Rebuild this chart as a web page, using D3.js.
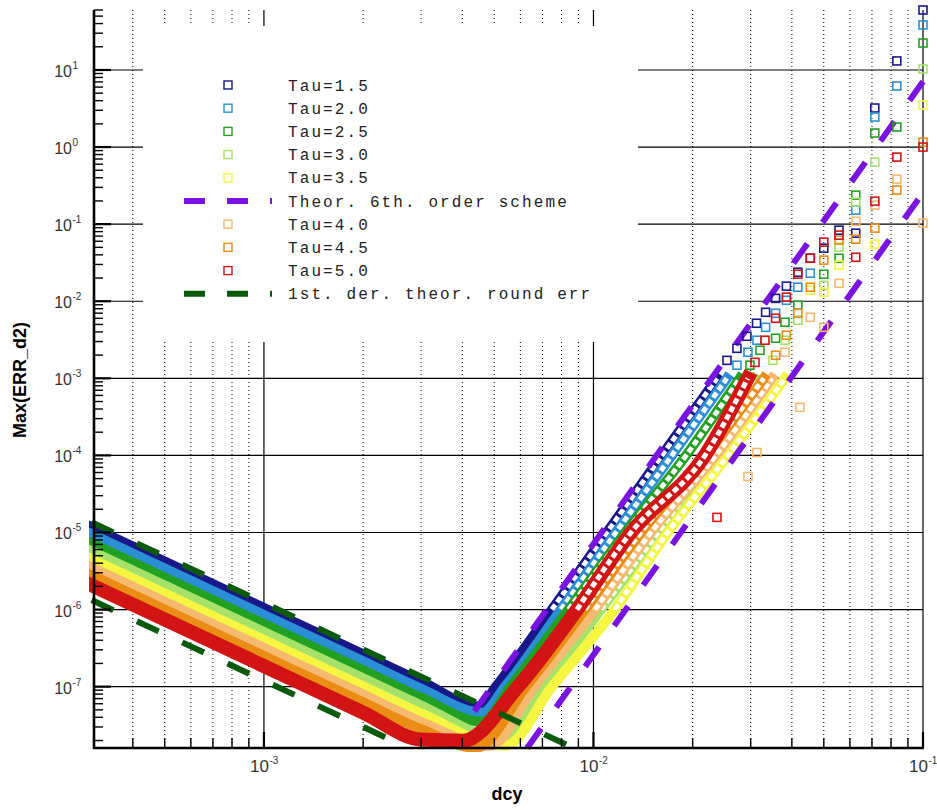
<!DOCTYPE html>
<html>
<head>
<meta charset="utf-8">
<script src="https://cdn.jsdelivr.net/npm/d3@7"></script>
<style>
  html, body { margin: 0; padding: 0; background: #fff; }
  svg { display: block; }
</style>
</head>
<body>
<div id="chart"></div>
<script>
// axis ticks
const dcyDecades = [1e-3, 1e-2, 1e-1];
const dcyExp = ['-3', '-2', '-1'];
const errDecades = [1e-7, 1e-6, 1e-5, 1e-4, 1e-3, 1e-2, 1e-1, 1e0, 1e1];
const errExp = ['-7', '-6', '-5', '-4', '-3', '-2', '-1', '0', '1'];

// series labels / colours
const tauLabels = ['Tau=1.5', 'Tau=2.0', 'Tau=2.5', 'Tau=3.0', 'Tau=3.5', 'Tau=4.0', 'Tau=4.5', 'Tau=5.0'];
const tauColors = ['#18188a', '#2b8fd6', '#21a021', '#a6e26a', '#f5f542', '#f5b970', '#eb8c14', '#d21414'];

// dense part of each series (dcy, max err) -- the squares overlap into a band
const band15 = [[3e-4, 1.17e-5], [1e-3, 1.05e-6], [2e-3, 2.63e-7], [3e-3, 1.17e-7], [4.52e-3, 5.5e-8], [5.06e-3, 1e-7], [7.48e-3, 1e-6], [1.099e-2, 1e-5], [1.614e-2, 1e-4], [2.37e-2, 1e-3]];
const band20 = [[3e-4, 9.45e-6], [1e-3, 8.5e-7], [2e-3, 2.13e-7], [3e-3, 9.4e-8], [4.6e-3, 4.6e-8], [5.39e-3, 1e-7], [7.97e-3, 1e-6], [1.17e-2, 1e-5], [1.73e-2, 1e-4], [2.54e-2, 1e-3]];
const band25 = [[3e-4, 7.22e-6], [1e-3, 6.5e-7], [2e-3, 1.63e-7], [3e-3, 7.2e-8], [4.6e-3, 3.5e-8], [5.6e-3, 1e-7], [8.4e-3, 1e-6], [1.25e-2, 1e-5], [1.91e-2, 1e-4], [2.78e-2, 1e-3]];
const band30 = [[3e-4, 5.69e-6], [1e-3, 5.12e-7], [2e-3, 1.28e-7], [3e-3, 5.7e-8], [5.2e-3, 2.18e-8], [6.98e-3, 1e-7], [1.054e-2, 1e-6], [1.57e-2, 1e-5], [2.29e-2, 1e-4], [3.09e-2, 1e-3]];
const band35 = [[3e-4, 4.48e-6], [1e-3, 4.03e-7], [2e-3, 1.01e-7], [3e-3, 4.5e-8], [5.39e-3, 1.71e-8], [7.48e-3, 1e-7], [1.161e-2, 1e-6], [1.68e-2, 1e-5], [2.56e-2, 1e-4], [3.81e-2, 1e-3]];
const band40 = [[3e-4, 3.52e-6], [1e-3, 3.17e-7], [2e-3, 7.9e-8], [3e-3, 3.5e-8], [4.85e-3, 1.71e-8], [6.6e-3, 1e-7], [1.011e-2, 1e-6], [1.494e-2, 1e-5], [2.35e-2, 1e-4], [3.48e-2, 1e-3]];
const band45 = [[3e-4, 2.78e-6], [1e-3, 2.5e-7], [2e-3, 6.25e-8], [3e-3, 2.8e-8], [4.4e-3, 1.61e-8], [6.24e-3, 1e-7], [9.42e-3, 1e-6], [1.393e-2, 1e-5], [2.19e-2, 1e-4], [3.29e-2, 1e-3]];
const band50 = [[3e-4, 2.06e-6], [1e-3, 1.85e-7], [2e-3, 4.6e-8], [3e-3, 2.06e-8], [4.02e-3, 1.99e-8], [5.9e-3, 1e-7], [8.91e-3, 1e-6], [1.3e-2, 1e-5], [2.18e-2, 1e-4], [2.94e-2, 1e-3]];

// sparse part (coarse grids, single squares)
const pts15 = [[0.02542, 1.71e-3], [0.02725, 2.45e-3], [0.02921, 3.51e-3], [0.03125, 5.18e-3], [0.0333, 7.19e-3], [0.0357, 1.09e-2], [0.0385, 1.57e-2], [0.0417, 2.38e-2], [0.0455, 3.62e-2], [0.05, 4.88e-2], [0.0556, 8.35e-2], [0.0625, 7.64e-2], [0.0714, 3.21], [0.0833, 13.1], [0.1, 60]];
const pts20 = [[0.02725, 1.48e-3], [0.02943, 2.18e-3], [0.03135, 3.12e-3], [0.0333, 4.59e-3], [0.0357, 6.98e-3], [0.0385, 1.03e-2], [0.0417, 1.52e-2], [0.0455, 2.31e-2], [0.0625, 0.152], [0.0714, 2.45], [0.0833, 6.2], [0.1, 38.4]];
const pts25 = [[0.02985, 1.48e-3], [0.03201, 2.31e-3], [0.0357, 3.31e-3], [0.03813, 5.34e-3], [0.0417, 8.87e-3], [0.05, 2.24e-2], [0.0556, 3.61e-2], [0.0625, 0.238], [0.0714, 1.52], [0.0833, 1.82], [0.1, 22.4]];
const pts30 = [[0.03506, 1.71e-3], [0.03813, 3.12e-3], [0.0417, 5.67e-3], [0.05, 1.61e-2], [0.0556, 5.02e-2], [0.0625, 0.193], [0.0714, 0.638], [0.1, 10.3]];
const pts35 = [[0.0455, 1.39e-2], [0.05, 1.31e-2], [0.0556, 2.94e-2], [0.0714, 5.5e-2], [0.1, 3.51]];
const pts40 = [[0.02943, 5.33e-5], [0.03135, 1.09e-4], [0.03813, 2.18e-3], [0.04233, 4.2e-4], [0.0455, 6.19e-3], [0.05, 4.59e-3], [0.0556, 1.71e-2], [0.0625, 0.109], [0.0714, 0.177], [0.0833, 0.384], [0.1, 0.103]];
const pts45 = [[0.0357, 1.99e-3], [0.0385, 3.62e-3], [0.0417, 6.98e-3], [0.0455, 1.52e-2], [0.05, 3.41e-2], [0.0556, 6.2e-2], [0.0625, 6.38e-2], [0.0714, 8.87e-2], [0.0833, 0.277], [0.1, 1.16]];
const pts50 = [[0.0237, 1.57e-5], [0.03092, 1.61e-3], [0.03315, 3.12e-3], [0.0357, 6.01e-3], [0.0385, 1.13e-2], [0.0417, 2.24e-2], [0.0455, 3.61e-2], [0.05, 5.84e-2], [0.0556, 7.2e-2], [0.0625, 3.72e-2], [0.0714, 0.199], [0.0833, 0.741], [0.1, 1.0]];

// theory lines (straight in log-log, end points)
const sixthHi = [[4.35e-3, 4.8e-8], [0.1, 7.08]];
const sixthLo = [[6.29e-3, 1.6e-8], [0.1, 0.257]];
const roundHi = [[3e-4, 1.36e-5], [8.7e-3, 1.6e-8]];
const roundLo = [[3e-4, 1.33e-6], [2.74e-3, 1.6e-8]];

const makePlot = () => {
  const width = 937;
  const height = 810;
  const plot = { left: 94, right: 923, top: 10, bottom: 748 };
  const purple = '#7a12e2';
  const dkgreen = '#0b5a0b';

  const svg = d3.select('#chart').append('svg').attr('width', width).attr('height', height);

  const x = d3.scaleLog().domain([3.05e-4, 0.1]).range([plot.left, plot.right]);
  const y = d3.scaleLog().domain([1.6e-8, 60]).range([plot.bottom, plot.top]);

  const minorX = [];
  [1e-4, 1e-3, 1e-2].forEach((dec) => d3.range(2, 10).forEach((m) => {
    const v = m * dec;
    if (v > x.domain()[0] && v < x.domain()[1]) minorX.push(v);
  }));
  const minorY = [];
  [1e-8, 1e-7, 1e-6, 1e-5, 1e-4, 1e-3, 1e-2, 1e-1, 1e0, 1e1].forEach((dec) => d3.range(2, 10).forEach((m) => {
    const v = m * dec;
    if (v > y.domain()[0] && v <= y.domain()[1]) minorY.push(v);
  }));

  /**
   * Grid
   */
  const grid = svg.append('g');
  grid.selectAll('.gx')
    .data(minorX)
    .join('line')
    .attr('x1', (d) => x(d))
    .attr('x2', (d) => x(d))
    .attr('y1', plot.top)
    .attr('y2', plot.bottom)
    .attr('stroke', '#000')
    .attr('stroke-width', 1)
    .attr('stroke-dasharray', '1,3');
  grid.selectAll('.gX')
    .data(dcyDecades)
    .join('line')
    .attr('x1', (d) => x(d))
    .attr('x2', (d) => x(d))
    .attr('y1', plot.top)
    .attr('y2', plot.bottom)
    .attr('stroke', '#000')
    .attr('stroke-width', 1.2);
  grid.selectAll('.gy')
    .data(errDecades)
    .join('line')
    .attr('x1', plot.left)
    .attr('x2', plot.right)
    .attr('y1', (d) => y(d))
    .attr('y2', (d) => y(d))
    .attr('stroke', '#000')
    .attr('stroke-width', 1.2);

  // legend background hides the grid
  svg.append('rect')
    .attr('x', 143)
    .attr('y', 26)
    .attr('width', 495)
    .attr('height', 316)
    .attr('fill', '#fff');

  /**
   * Data
   */
  const series = tauLabels.map((label, i) => ({
    label,
    color: tauColors[i],
    band: [band15, band20, band25, band30, band35, band40, band45, band50][i],
    pts: [pts15, pts20, pts25, pts30, pts35, pts40, pts45, pts50][i],
  }));

  svg.append('clipPath')
    .attr('id', 'clip')
    .append('rect')
    .attr('x', plot.left - 5)
    .attr('y', 0)
    .attr('width', plot.right - plot.left + 12)
    .attr('height', plot.bottom + 4);

  const line = d3.line()
    .x((d) => x(d[0]))
    .y((d) => y(d[1]))
    .curve(d3.curveMonotoneX);

  const data = svg.append('g').attr('clip-path', 'url(#clip)');

  series.forEach((s, i) => {
    data.append('path')
      .attr('d', line(s.band))
      .attr('fill', 'none')
      .attr('stroke', s.color)
      .attr('stroke-width', i === 7 ? 14 : 10)
      .attr('stroke-linejoin', 'round')
      .attr('stroke-linecap', 'square');
    // rising part: squares no longer fully overlap, so show them hollow
    data.append('path')
      .attr('d', line(s.band.filter((d) => d[0] > 5e-3 && d[1] >= 1e-6)))
      .attr('fill', 'none')
      .attr('stroke', '#fff')
      .attr('stroke-width', 5)
      .attr('stroke-dasharray', '6,3');
  });

  series.forEach((s) => {
    svg.append('g')
      .selectAll('rect')
      .data(s.pts)
      .join('rect')
      .attr('x', (d) => x(d[0]) - 4)
      .attr('y', (d) => y(d[1]) - 4)
      .attr('width', 8)
      .attr('height', 8)
      .attr('fill', 'none')
      .attr('stroke', s.color)
      .attr('stroke-width', 1.6);
  });

  const theory = [
    { pts: roundHi, color: dkgreen },
    { pts: roundLo, color: dkgreen },
    { pts: sixthHi, color: purple },
    { pts: sixthLo, color: purple },
  ];
  data.selectAll('.theory')
    .data(theory)
    .join('path')
    .attr('d', (d) => d3.line().x((p) => x(p[0])).y((p) => y(p[1]))(d.pts))
    .attr('fill', 'none')
    .attr('stroke', (d) => d.color)
    .attr('stroke-width', 6)
    .attr('stroke-dasharray', '24,26');

  /**
   * Axes
   */
  const axes = svg.append('g').attr('stroke', '#000');
  axes.append('line')
    .attr('x1', plot.left).attr('x2', plot.left)
    .attr('y1', plot.top).attr('y2', plot.bottom + 1)
    .attr('stroke-width', 2.6);
  axes.append('line')
    .attr('x1', plot.left - 1).attr('x2', plot.right + 1)
    .attr('y1', plot.bottom).attr('y2', plot.bottom)
    .attr('stroke-width', 2.6);

  axes.selectAll('.ty')
    .data(errDecades)
    .join('line')
    .attr('x1', plot.left).attr('x2', plot.left + 17)
    .attr('y1', (d) => y(d)).attr('y2', (d) => y(d))
    .attr('stroke-width', 2.2);
  axes.selectAll('.tym')
    .data(minorY)
    .join('line')
    .attr('x1', plot.left).attr('x2', plot.left + 9)
    .attr('y1', (d) => y(d)).attr('y2', (d) => y(d))
    .attr('stroke-width', 1.4);
  axes.selectAll('.tx')
    .data(dcyDecades)
    .join('line')
    .attr('x1', (d) => x(d)).attr('x2', (d) => x(d))
    .attr('y1', plot.bottom).attr('y2', plot.bottom - 16)
    .attr('stroke-width', 2.2);
  axes.selectAll('.txm')
    .data(minorX)
    .join('line')
    .attr('x1', (d) => x(d)).attr('x2', (d) => x(d))
    .attr('y1', plot.bottom).attr('y2', plot.bottom - 10)
    .attr('stroke-width', 1.4);

  // tick labels: 10 with a raised exponent
  const tickFont = "'Liberation Sans', Arial, sans-serif";
  errDecades.forEach((d, i) => {
    const g = svg.append('g').attr('fill', '#333').style('font-family', tickFont);
    g.append('text').text('10')
      .attr('x', 72).attr('y', y(d) + 7)
      .attr('text-anchor', 'end')
      .style('font-size', '16px');
    g.append('text').text(errExp[i])
      .attr('x', 72.5).attr('y', y(d) - 1)
      .style('font-size', '10px');
  });
  dcyDecades.forEach((d, i) => {
    const g = svg.append('g').attr('fill', '#333').style('font-family', tickFont);
    g.append('text').text('10')
      .attr('x', x(d) + 5).attr('y', 772)
      .attr('text-anchor', 'end')
      .style('font-size', '17px');
    g.append('text').text(dcyExp[i])
      .attr('x', x(d) + 5.5).attr('y', 764)
      .style('font-size', '10px');
  });

  svg.append('text')
    .text('dcy')
    .attr('x', 507)
    .attr('y', 800)
    .attr('text-anchor', 'middle')
    .style('font-family', tickFont)
    .style('font-weight', 'bold')
    .style('font-size', '18px');
  svg.append('text')
    .text('Max(ERR_d2)')
    .attr('transform', 'translate(26,380) rotate(-90)')
    .attr('text-anchor', 'middle')
    .style('font-family', tickFont)
    .style('font-weight', 'bold')
    .style('font-size', '18px');

  /**
   * Legend
   */
  const legendItems = [
    { label: tauLabels[0], color: tauColors[0] },
    { label: tauLabels[1], color: tauColors[1] },
    { label: tauLabels[2], color: tauColors[2] },
    { label: tauLabels[3], color: tauColors[3] },
    { label: tauLabels[4], color: tauColors[4] },
    { label: 'Theor. 6th. order scheme', color: purple, line: true },
    { label: tauLabels[5], color: tauColors[5] },
    { label: tauLabels[6], color: tauColors[6] },
    { label: tauLabels[7], color: tauColors[7] },
    { label: '1st. der. theor. round err', color: dkgreen, line: true },
  ];
  const legend = svg.append('g');
  legendItems.forEach((item, i) => {
    const ly = 85 + i * 23.2;
    if (item.line) {
      legend.append('line')
        .attr('x1', 184).attr('x2', 272)
        .attr('y1', ly).attr('y2', ly)
        .attr('stroke', item.color)
        .attr('stroke-width', 6)
        .attr('stroke-dasharray', '21,22');
    } else {
      legend.append('rect')
        .attr('x', 224).attr('y', ly - 4)
        .attr('width', 8).attr('height', 8)
        .attr('fill', 'none')
        .attr('stroke', item.color)
        .attr('stroke-width', 1.4);
    }
    legend.append('text')
      .text(item.label)
      .attr('x', 288)
      .attr('y', ly + 5.5)
      .attr('fill', '#222')
      .style('font-family', "'Liberation Mono', 'DejaVu Sans Mono', monospace")
      .style('font-size', '16px')
      .style('letter-spacing', '2.1px');
  });
};

makePlot();
</script>
</body>
</html>
